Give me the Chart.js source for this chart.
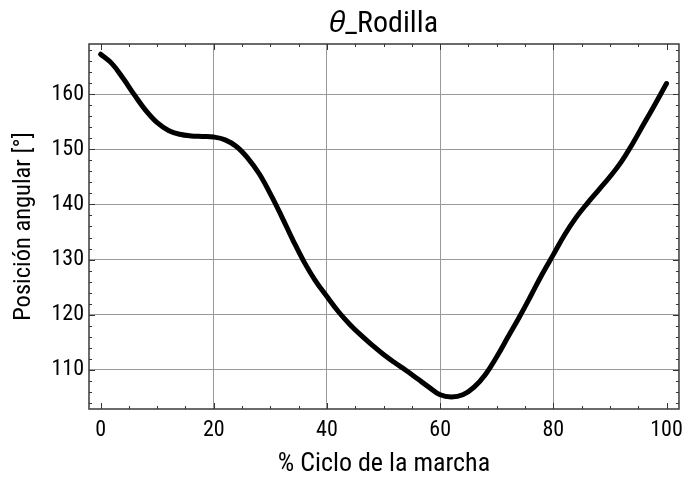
<!DOCTYPE html>
<html>
<head>
<meta charset="utf-8">
<script src="https://cdn.jsdelivr.net/npm/chart.js@4.4.0/dist/chart.umd.min.js"></script>
<style>
html,body{margin:0;padding:0;background:#fff;}
#wrap{width:691px;height:487px;}
</style>
</head>
<body>
<div id="wrap"><canvas id="c" width="691" height="487"></canvas></div>
<script>
const cyclePct = [0,2,4,6,8,10,12,14,16,18,20,22,24,26,28,30,32,34,36,38,40,42,44,46,48,50,52,54,56,58,60,62,64,66,68,70,72,74,76,78,80,82,84,86,88,90,92,94,96,98,100];
const kneeAngle = [167.2,165.5,162.8,159.8,157.0,154.8,153.4,152.7,152.4,152.3,152.2,151.7,150.5,148.4,145.6,141.9,137.8,133.5,129.5,126.1,123.3,120.6,118.3,116.3,114.5,112.8,111.3,109.9,108.4,106.9,105.5,105.1,105.5,106.9,109.2,112.4,116.0,119.6,123.4,127.3,130.9,134.5,137.6,140.2,142.6,145.0,147.7,151.0,154.6,158.2,161.9];
const xTicks = [0,20,40,60,80,100];
const yTicks = [110,120,130,140,150,160];
const xMinor = [5,10,15,25,30,35,45,50,55,65,70,75,85,90,95];
const yMinor = [104,106,108,112,114,116,118,122,124,126,128,132,134,136,138,142,144,146,148,152,154,156,158,162,164,166,168];

const FONT = "'Roboto Condensed','Liberation Sans',Arial,sans-serif";

const centerTitle = {
  id: 'centerTitle',
  afterLayout(chart) {
    const t = chart.titleBlock;
    if (t) {
      t.left = chart.chartArea.left;
      t.right = chart.chartArea.right;
      t.width = t.right - t.left;
    }
  }
};

const frameTicks = {
  id: 'frameTicks',
  afterDraw(chart) {
    const {ctx, chartArea: a, scales: {x, y}} = chart;
    ctx.save();
    ctx.strokeStyle = '#333';
    ctx.lineWidth = 1;
    const tickX = (vals, len) => {
      vals.forEach(v => {
        const px = Math.round(x.getPixelForValue(v)) + 0.5;
        ctx.beginPath();
        ctx.moveTo(px, a.bottom); ctx.lineTo(px, a.bottom - len);
        ctx.moveTo(px, a.top); ctx.lineTo(px, a.top + len);
        ctx.stroke();
      });
    };
    const tickY = (vals, len) => {
      vals.forEach(v => {
        const py = Math.round(y.getPixelForValue(v)) + 0.5;
        ctx.beginPath();
        ctx.moveTo(a.left, py); ctx.lineTo(a.left + len, py);
        ctx.moveTo(a.right, py); ctx.lineTo(a.right - len, py);
        ctx.stroke();
      });
    };
    tickX(xTicks, 6); tickX(xMinor, 3);
    tickY(yTicks, 6); tickY(yMinor, 3);
    ctx.strokeStyle = '#3a3a3a';
    ctx.lineWidth = 1.5;
    ctx.strokeRect(a.left, a.top, a.right - a.left, a.bottom - a.top);
    ctx.restore();
  }
};

new Chart(document.getElementById('c'), {
  type: 'line',
  data: {
    datasets: [{
      data: cyclePct.map((v, i) => ({x: v, y: kneeAngle[i]})),
      borderColor: '#000',
      borderWidth: 5,
      pointRadius: 0,
      tension: 0.4,
      borderCapStyle: 'round',
      borderJoinStyle: 'round',
      fill: false
    }]
  },
  options: {
    responsive: false,
    animation: false,
    devicePixelRatio: 1,
    layout: {padding: {left: 0, right: 9, top: 0, bottom: 0}},
    plugins: {
      legend: {display: false},
      tooltip: {enabled: false},
      title: {
        display: true,
        text: '𝜃_Rodilla',
        color: '#000',
        font: {family: FONT, size: 30, weight: 'normal', lineHeight: 1.2},
        padding: {top: 6, bottom: 2}
      }
    },
    scales: {
      x: {
        type: 'linear',
        min: -2.05,
        max: 102.2,
        afterBuildTicks: s => { s.ticks = xTicks.map(v => ({value: v})); },
        afterFit: s => { s.height = 78; },
        grid: {
          color: ctx => (ctx.tick && (ctx.tick.value === 0 || ctx.tick.value === 100)) ? 'rgba(0,0,0,0)' : '#999',
          lineWidth: 1,
          drawTicks: false
        },
        border: {display: false},
        ticks: {color: '#000', font: {family: FONT, size: 22}, padding: 8, maxRotation: 0},
        title: {
          display: true,
          text: '% Ciclo de la marcha',
          color: '#000',
          font: {family: FONT, size: 26},
          padding: {top: 0, bottom: 7}
        }
      },
      y: {
        type: 'linear',
        min: 102.93,
        max: 169.06,
        afterBuildTicks: s => { s.ticks = yTicks.map(v => ({value: v})); },
        afterFit: s => { s.width = 89; },
        grid: {color: '#999', lineWidth: 1, drawTicks: false},
        border: {display: false},
        ticks: {color: '#000', font: {family: FONT, size: 22}, padding: 5},
        title: {
          display: true,
          text: 'Posición angular [°]',
          color: '#000',
          font: {family: FONT, size: 24.5},
          padding: {top: 9, bottom: 0}
        }
      }
    }
  },
  plugins: [centerTitle, frameTicks]
});
</script>
</body>
</html>
